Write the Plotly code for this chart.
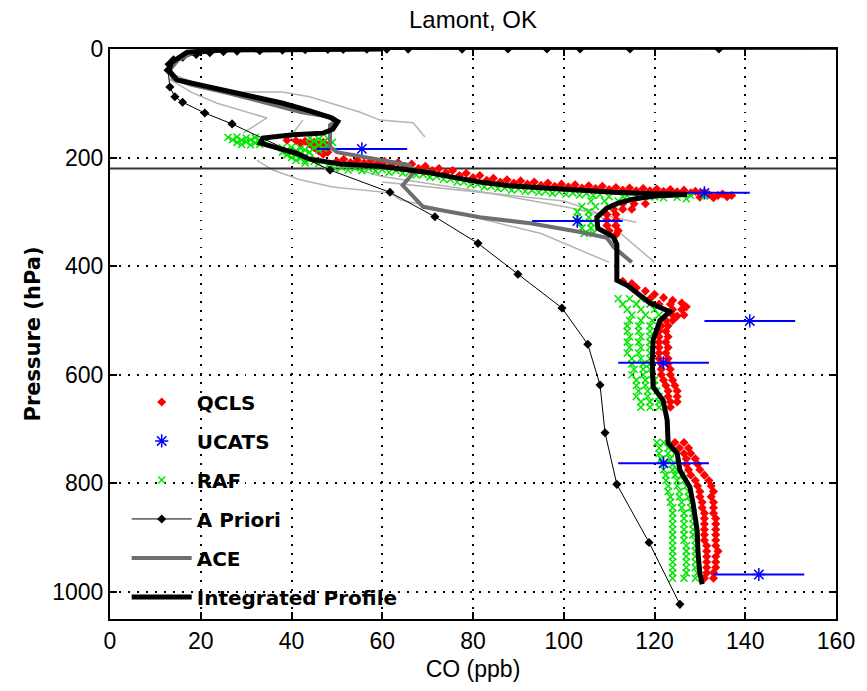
import plotly.graph_objects as go

# ---------------- data (CO in ppb, pressure in hPa) ----------------
TITLE = "Lamont, OK"
X_TICKS = [0, 20, 40, 60, 80, 100, 120, 140, 160]
Y_TICKS = [0, 200, 400, 600, 800, 1000]
TROPOPAUSE_P = 220

# QCLS (red) point cloud, (CO, p) pairs, by segment
QCLS_UPPER = [(39, 168), (41, 169), (43, 170), (45, 172), (47, 172), (46, 177), (48, 178), (45, 182), (47, 184),
              (46, 188), (48, 190), (47, 194), (44, 175), (42, 173)]
QCLS_BAND = [(50, 207), (51.5, 203), (53, 209), (54.5, 205), (56, 210), (57.5, 206), (59, 211), (60.5, 207),
             (62, 213), (63.5, 209), (65, 216), (66.5, 212), (68, 220), (69.5, 216), (71, 224), (72.5, 220),
             (74, 228), (75.5, 224), (77, 233), (78.5, 229), (80, 237), (81.5, 233), (83, 242), (84.5, 238),
             (86, 245), (87.5, 241), (89, 247), (90.5, 243), (92, 249), (93.5, 245), (95, 251), (96.5, 247),
             (98, 253), (99.5, 249), (101, 254), (102.5, 250), (104, 256), (105.5, 252), (107, 257), (108.5, 253),
             (110, 259), (111.5, 255), (113, 260), (114.5, 256), (116, 261), (117.5, 257), (119, 261), (120.5, 258),
             (122, 262), (123.5, 259), (125, 263), (126.5, 260), (128, 265), (130, 266), (132, 268), (134, 270),
             (136, 272), (133, 274), (130, 273), (135, 267), (137, 270), (129, 262), (131, 264)]
QCLS_TURN = [(113, 285), (115.5, 285), (118, 285), (111, 295), (113, 295), (115, 295), (109.5, 305), (111.5, 305),
             (109.5, 315), (111.5, 315), (109.5, 325), (111.5, 325), (110, 335), (112, 335), (111.5, 342)]
QCLS_MID = [(113, 428), (115, 432), (116, 440), (118, 446), (120, 452), (122, 458), (124, 463), (126, 468),
            (127, 475), (125, 492), (119, 460), (121, 470), (123.5, 470), (124, 480), (126, 480), (124, 490), (126.5, 490),
            (122.5, 500), (124, 500), (121.5, 510), (123, 510), (121, 520), (122.5, 520), (121, 530), (123, 530),
            (121, 540), (122.5, 540), (121, 550), (123, 550), (121, 560), (122.5, 560), (121, 570), (123, 570),
            (121.5, 580), (123, 580), (121.5, 590), (123.5, 590), (121.5, 600), (123.5, 600), (122, 610), (124, 610),
            (122.5, 620), (124.5, 620), (123, 630), (125, 630), (123, 640), (125, 640), (123.5, 650), (125, 650), (123.5, 660)]
QCLS_LOW = [(124.5, 725), (126.5, 725), (125.5, 735), (127.5, 735), (126.5, 745), (128, 745), (127, 755), (129, 755),
            (127, 765), (129.5, 765), (127.5, 775), (130, 775), (128, 785), (131, 785), (129, 795), (132, 795),
            (129.5, 805), (132.5, 805), (130, 815), (133, 815), (130, 825), (132.5, 825), (130.5, 835), (133, 835),
            (130.5, 845), (133, 845), (131, 855), (133, 855), (131, 865), (133.5, 865), (131, 875), (133.5, 875),
            (131, 885), (133.5, 885), (131, 895), (133.5, 895), (131, 905), (133.5, 905), (131.5, 915), (133.5, 915),
            (131.5, 925), (134, 925), (131.5, 935), (133.5, 935), (131.5, 945), (133.5, 945), (131.5, 955), (133.5, 955),
            (131.5, 965), (133, 965), (131, 975), (133, 975)]

# RAF (green) point cloud
RAF_UPPER = [(26, 163), (28, 162), (30, 164), (32, 163), (27, 167), (29, 168), (31, 167), (33, 168), (28, 172),
             (30, 171), (32, 173), (34, 172), (29, 176), (31, 177), (33, 176),
             (38, 182), (40, 181), (42, 183), (39, 186), (41, 187), (43, 186), (38, 190), (40, 191), (42, 192),
             (44, 190), (39, 195), (41, 196), (43, 197), (40, 200), (42, 201), (44, 202), (41, 205), (43, 206),
             (45, 207), (43, 210), (46, 211),
             (44, 164), (46, 166), (48, 165), (45, 170), (47, 171), (49, 172), (44, 176), (46, 177), (48, 178),
             (45, 182), (47, 183), (46, 186)]
RAF_BAND = [(48, 215), (49.5, 220), (51, 218), (52.5, 223), (54, 219), (55.5, 224), (57, 220), (58.5, 225),
            (60, 222), (61.5, 227), (63, 224), (64.5, 229), (66, 227), (67.5, 232), (69, 231), (70.5, 236),
            (72, 235), (73.5, 240), (75, 240), (76.5, 245), (78, 245), (79.5, 250), (81, 249), (82.5, 254),
            (84, 253), (85.5, 257), (87, 256), (88.5, 260), (90, 258), (91.5, 262), (93, 260), (94.5, 264),
            (96, 262), (97.5, 266), (99, 263), (100.5, 267), (102, 265), (103.5, 269), (105, 266), (106.5, 270),
            (108, 268), (114, 270), (116, 272), (120, 272), (122, 274), (125, 273), (127, 276), (128, 270), (131, 271)]
RAF_TURN = [(110, 272), (113, 272), (116, 272), (119, 272), (106, 280), (109, 280), (112, 280), (104, 290),
            (107, 290), (110, 290), (103, 300), (105.5, 300), (103, 310), (105.5, 310), (103.5, 320), (106, 320),
            (104, 330), (106, 330), (104.5, 340), (106.5, 340)]
RAF_MID = [(112, 460), (114.5, 460), (117, 460), (113, 470), (116, 470), (119, 470), (114, 480), (117, 480), (120, 480),
           (115, 490), (118, 490), (121, 490), (114.5, 500), (117, 500), (119.5, 500), (114, 510), (116.5, 510), (119, 510),
           (114, 520), (116.5, 520), (119, 520), (114.5, 530), (117, 530), (119, 530), (114, 540), (116.5, 540), (119, 540),
           (114.5, 550), (117, 550), (119, 550), (114, 560), (116.5, 560), (119, 560), (115, 570), (117, 570), (119, 570),
           (115, 580), (117.5, 580), (119, 580), (115.5, 590), (117.5, 590), (119, 590), (115, 600), (117.5, 600), (119.5, 600),
           (116, 610), (118, 610), (120, 610), (116, 620), (118, 620), (120, 620), (116.5, 630), (118.5, 630), (120.5, 630),
           (116, 640), (118.5, 640), (121, 640), (117, 650), (119, 650), (121, 650), (117, 660), (119, 660), (121, 660)]
RAF_LOW = [(120.5, 725), (122, 725), (121, 735), (123, 735), (121, 745), (123, 745), (124.5, 745), (121.5, 755), (123.5, 755),
           (122, 765), (124, 765), (122, 775), (124, 775), (125, 775), (122.5, 785), (124.5, 785), (126, 785),
           (122.5, 795), (125, 795), (126.5, 795), (123, 805), (125, 805), (127, 805), (123, 815), (125.5, 815), (127.5, 815),
           (123.5, 825), (125.5, 825), (127.5, 825), (123.5, 835), (126, 835), (128, 835), (124, 845), (126, 845), (128, 845),
           (124, 855), (126.5, 855), (128.5, 855), (124, 865), (126.5, 865), (128.5, 865), (124, 875), (126.5, 875), (128.5, 875),
           (124, 885), (126.5, 885), (128.5, 885), (124, 895), (126.5, 895), (128.5, 895), (124, 905), (126.5, 905), (129, 905),
           (124, 915), (127, 915), (129, 915), (124, 925), (127, 925), (129, 925), (124, 935), (127, 935), (129, 935),
           (124, 945), (127, 945), (129, 945), (124, 955), (127, 955), (129, 955), (124, 965), (127, 965), (129.5, 965),
           (124, 975), (126.5, 975), (129, 975)]

UCATS_CO = [55.5, 131, 103, 141, 122, 122, 143]
UCATS_P = [184, 265, 317, 501, 578, 763, 968]
UCATS_ERR = [10, 10, 10, 10, 10, 10, 10]

APRIORI_CO = [250, 134.2, 114.6, 103.6, 96.3, 87.7, 77.6, 65.7, 61, 56.6, 51.4, 48, 43, 38, 33, 28, 25, 22, 19, 16, 14, 13,
              12.8, 13.2, 14.3, 16, 20.9, 26.9, 48.5, 61.7, 71.6, 81.1, 89.9, 99.6, 105.3, 108, 109.1, 111.7, 118.8, 125.6]
APRIORI_P = [0.01, 0.02, 0.03, 0.05, 0.07, 0.1, 0.15, 0.2, 0.3, 0.5, 0.7, 1, 1.5, 2, 3, 4, 5, 7, 10, 15, 20, 28,
             39, 70, 88, 98, 118, 138, 223, 264, 309, 358, 415, 477, 544, 619, 707, 802, 909, 1023]

ACE_CO = [24, 19, 15, 13, 14, 18, 26, 33, 42, 49, 50, 48.5, 48.5, 50, 56, 66, 67, 64.5, 69, 81.5, 92.6, 103.6, 109.5, 111, 115]
ACE_P = [1, 4, 20, 40, 55, 66, 81, 97, 116, 126, 132, 140, 180, 190, 199, 214, 227, 251, 291, 310, 321, 337, 348, 365, 393]

ACE_THIN1_CO = [13, 20, 29, 38, 44, 50, 55, 59.5, 66.8, 69.4]
ACE_THIN1_P = [44, 66, 79, 79, 88, 103, 116, 131, 136, 162]
ACE_THIN2_CO = [13, 18, 23.6, 34.6, 29.3]
ACE_THIN2_P = [55, 80, 100, 127, 155]
ACE_THIN3_CO = [32.4, 35.9, 41.9, 49.1, 61.7, 64, 72, 95, 110]
ACE_THIN3_P = [205, 223, 241, 254, 265, 278, 293, 340, 393]
ACE_THIN4_CO = [42.5, 39.7, 45, 60, 80, 100, 116]
ACE_THIN4_P = [131, 162, 200, 235, 260, 290, 319]
ACE_THIN5_CO = [60, 80, 100, 107, 120]
ACE_THIN5_P = [245, 262, 280, 300, 393]

INTEG_CO = [60, 35, 24, 17, 13.5, 13, 14.8, 19.8, 25.8, 30.9, 38.1, 44, 48.5, 50.2, 49.1, 47, 40.3, 33.7, 33.1, 36.8, 41,
            44, 50.7, 59.5, 66, 70.5, 76, 81.5, 88, 96.3, 104, 110.9, 118, 127.2, 120, 115, 112, 109.5, 107.3, 107.5, 110.9,
            111.7, 111.7, 113.9, 119, 123.4, 121.2, 119.7, 119.5, 119.7, 121.9, 122.8, 123, 125, 125.6, 127.8, 128.5, 129.4, 129.6, 130, 130.5]
INTEG_P = [0.2, 0.7, 2, 6, 25, 40, 57, 66, 77, 85, 100, 114, 126, 134, 148, 155, 158, 164, 173, 182, 192,
           203, 212, 216, 222, 228, 237, 245, 252, 257, 261, 264, 266, 268, 271, 277, 284, 293, 310, 330, 346,
           360, 426, 435, 468, 484, 500, 536, 573, 623, 647, 684, 726, 745, 776, 807, 837, 887, 929, 966, 986]

QCLS_PTS = QCLS_UPPER + QCLS_BAND + QCLS_TURN + QCLS_MID + QCLS_LOW
RAF_PTS = RAF_UPPER + RAF_BAND + RAF_TURN + RAF_MID + RAF_LOW

# ---------------- figure ----------------
NARROW = "Liberation Sans Narrow, Arial Narrow, Liberation Sans, sans-serif"
LEG_FONT = dict(family="DejaVu Sans", size=20, color="black", weight="bold")
TICK_FONT = dict(family=NARROW, size=23, color="black")

fig = go.Figure()

for xs, ys in [(ACE_THIN1_CO, ACE_THIN1_P), (ACE_THIN2_CO, ACE_THIN2_P), (ACE_THIN3_CO, ACE_THIN3_P),
               (ACE_THIN4_CO, ACE_THIN4_P), (ACE_THIN5_CO, ACE_THIN5_P)]:
    fig.add_trace(go.Scatter(x=xs, y=ys, mode="lines", line=dict(color="#b4b4b4", width=1.5),
                             showlegend=False, hoverinfo="skip"))

fig.add_trace(go.Scatter(x=[X_TICKS[0], X_TICKS[-1]], y=[TROPOPAUSE_P, TROPOPAUSE_P], mode="lines",
                         line=dict(color="#333333", width=2), showlegend=False, hoverinfo="skip"))

fig.add_trace(go.Scatter(x=[c for c, p in QCLS_PTS], y=[p for c, p in QCLS_PTS], mode="markers", name="QCLS",
                         legendgroup="a", legendrank=1,
                         marker=dict(symbol="diamond", color="red", size=7, line=dict(width=0))))
fig.add_trace(go.Scatter(x=[c for c, p in RAF_PTS], y=[p for c, p in RAF_PTS], mode="markers", name="RAF",
                         legendgroup="c", legendrank=3,
                         marker=dict(symbol="x-thin-open", color="#00e600", size=7, line=dict(width=1.5, color="#00e600"))))
fig.add_trace(go.Scatter(x=UCATS_CO, y=UCATS_P, mode="markers", name="UCATS", legendgroup="b", legendrank=2,
                         marker=dict(symbol="asterisk-open", color="blue", size=11, line=dict(width=1.5, color="blue")),
                         error_x=dict(type="data", array=UCATS_ERR, color="blue", thickness=2, width=0)))
fig.add_trace(go.Scatter(x=APRIORI_CO, y=APRIORI_P, mode="lines+markers", name="A Priori", legendgroup="d", legendrank=4,
                         line=dict(color="black", width=1), marker=dict(symbol="diamond", size=7, color="black")))
fig.add_trace(go.Scatter(x=ACE_CO, y=ACE_P, mode="lines", name="ACE", legendgroup="e", legendrank=5,
                         line=dict(color="#6e6e6e", width=4)))
fig.add_trace(go.Scatter(x=INTEG_CO, y=INTEG_P, mode="lines", name="Integrated Profile", legendgroup="f", legendrank=6,
                         line=dict(color="black", width=5)))

axis_common = dict(showline=True, linecolor="black", linewidth=2, mirror="ticks",
                   ticks="inside", ticklen=7, tickwidth=1.5, tickcolor="black",
                   showgrid=True, gridcolor="black", gridwidth=1.5, griddash="1.5px,7.5px",
                   zeroline=False, tickfont=TICK_FONT)

fig.update_xaxes(range=[0, 160], tickvals=X_TICKS, ticktext=[str(v) for v in X_TICKS],
                 title=dict(text="CO (ppb)", font=TICK_FONT, standoff=8), **axis_common)
fig.update_yaxes(range=[1050, 0], tickvals=Y_TICKS, ticktext=[str(v) for v in Y_TICKS],
                 title=dict(text="Pressure (hPa)", font=dict(family="DejaVu Sans", size=21, color="black", weight="bold"),
                            standoff=6),
                 **axis_common)

fig.update_layout(
    width=867, height=691,
    margin=dict(l=110, r=31, t=49, b=72, autoexpand=False),
    paper_bgcolor="white", plot_bgcolor="white",
    title=dict(text=TITLE, x=(110 + 363) / 867, xanchor="center", y=1 - 20 / 691, yanchor="middle",
               font=dict(family=NARROW, size=24, color="black")),
    legend=dict(x=0.023, y=0.415, xanchor="left", yanchor="top", bgcolor="rgba(0,0,0,0)",
                font=LEG_FONT, itemwidth=60, tracegroupgap=10, traceorder="grouped"),
    showlegend=True,
)

fig.write_html("out.html")
